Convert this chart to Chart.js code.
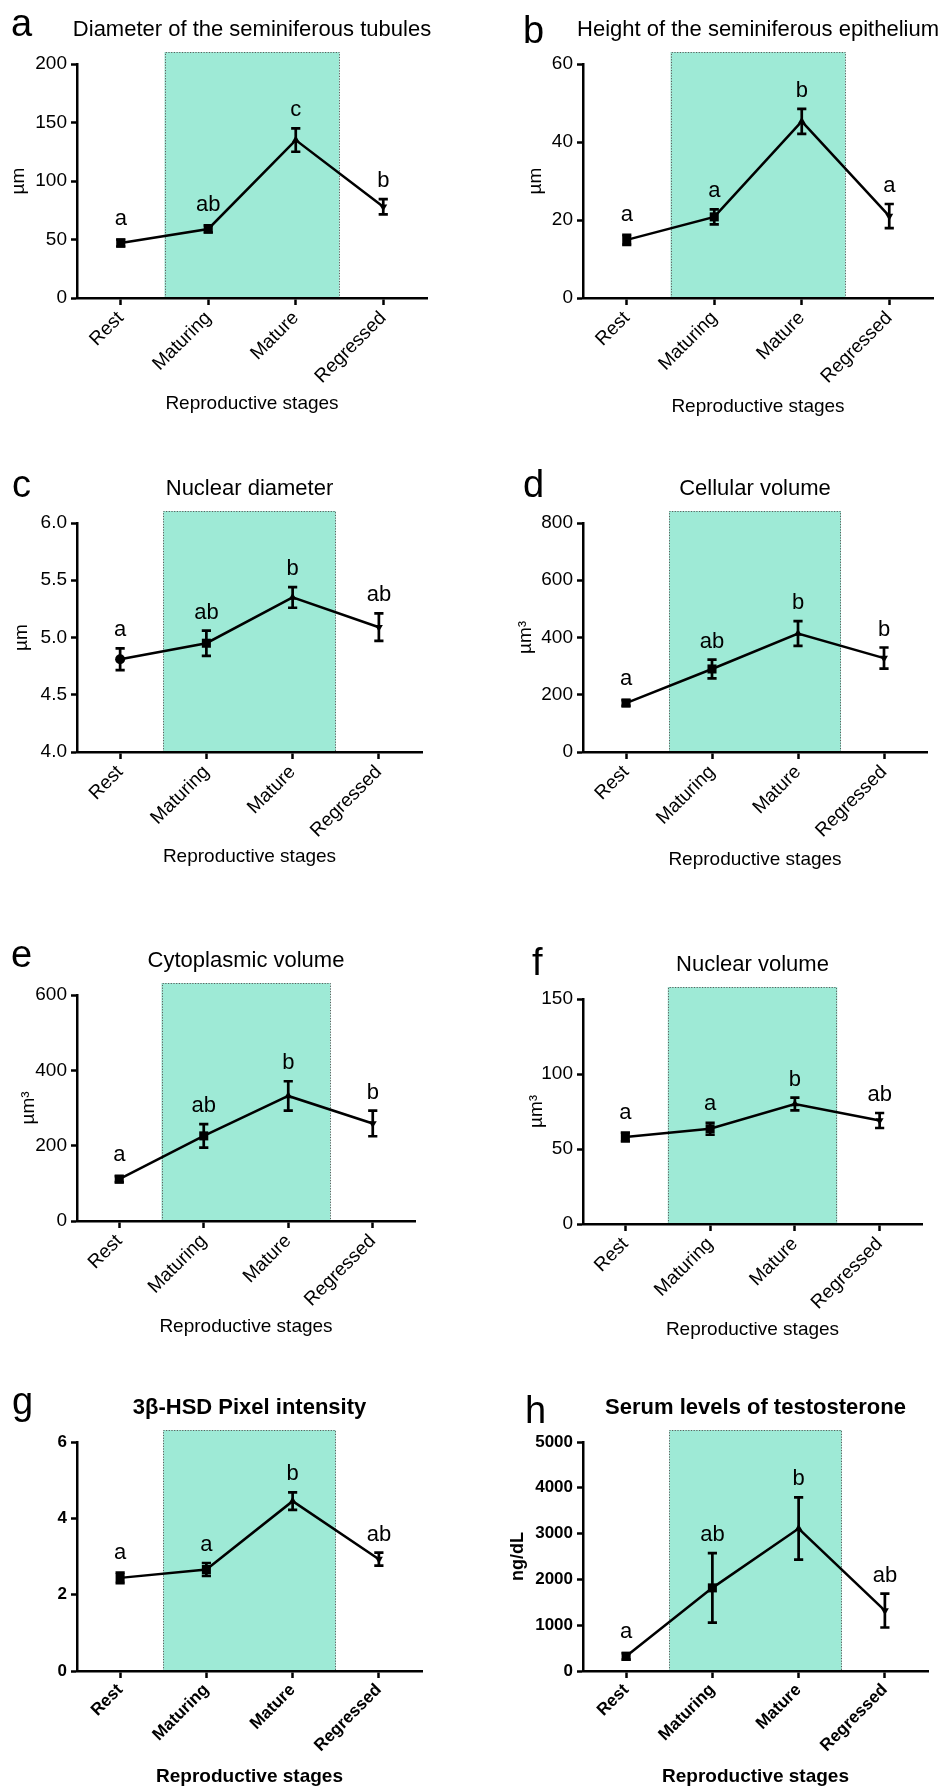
<!DOCTYPE html>
<html>
<head>
<meta charset="utf-8">
<title>Seminiferous tubule morphometry by reproductive stage</title>
<script src="https://cdn.jsdelivr.net/npm/chart.js@4.4.1/dist/chart.umd.min.js"></script>
<style>
  html, body { margin: 0; padding: 0; background: #fff; }
  #fig { position: relative; width: 941px; height: 1788px; overflow: hidden; background: #fff; }
  #fig canvas { position: absolute; }
</style>
</head>
<body>
<div id="fig"></div>
<script>
// ---- data -------------------------------------------------------------
const stages = ['Rest', 'Maturing', 'Mature', 'Regressed'];
const xAxisTitle = 'Reproductive stages';

// a: diameter of the seminiferous tubules (µm)
const tubuleDiameter = [47, 59, 135, 78];
const tubuleDiameterSem = [3, 3, 10, 6.5];
const tubuleDiameterGroups = ['a', 'ab', 'c', 'b'];
const tubuleDiameterTicks = ['0', '50', '100', '150', '200'];

// b: height of the seminiferous epithelium (µm)
const epitheliumHeight = [14.9, 20.8, 45.3, 21.0];
const epitheliumHeightSem = [1.3, 1.9, 3.2, 3.1];
const epitheliumHeightGroups = ['a', 'a', 'b', 'a'];
const epitheliumHeightTicks = ['0', '20', '40', '60'];

// c: nuclear diameter (µm)
const nuclearDiameter = [4.81, 4.95, 5.35, 5.09];
const nuclearDiameterSem = [0.095, 0.11, 0.09, 0.12];
const nuclearDiameterGroups = ['a', 'ab', 'b', 'ab'];
const nuclearDiameterTicks = ['4.0', '4.5', '5.0', '5.5', '6.0'];

// d: cellular volume (µm³)
const cellularVolume = [171, 290, 414, 328];
const cellularVolumeSem = [10, 33, 43, 37];
const cellularVolumeGroups = ['a', 'ab', 'b', 'b'];
const cellularVolumeTicks = ['0', '200', '400', '600', '800'];

// e: cytoplasmic volume (µm³)
const cytoplasmicVolume = [111, 226, 332, 259];
const cytoplasmicVolumeSem = [8, 31, 39, 34];
const cytoplasmicVolumeGroups = ['a', 'ab', 'b', 'b'];
const cytoplasmicVolumeTicks = ['0', '200', '400', '600'];

// f: nuclear volume (µm³)
const nuclearVolume = [58, 63.5, 80, 69];
const nuclearVolumeSem = [3, 4, 4.3, 5];
const nuclearVolumeGroups = ['a', 'a', 'b', 'ab'];
const nuclearVolumeTicks = ['0', '50', '100', '150'];

// g: 3β-HSD pixel intensity
const hsdIntensity = [2.44, 2.66, 4.45, 2.93];
const hsdIntensitySem = [0.14, 0.17, 0.23, 0.17];
const hsdIntensityGroups = ['a', 'a', 'b', 'ab'];
const hsdIntensityTicks = ['0', '2', '4', '6'];

// h: serum testosterone (ng/dL)
const testosterone = [320, 1815, 3110, 1320];
const testosteroneSem = [70, 757, 680, 370];
const testosteroneGroups = ['a', 'ab', 'b', 'ab'];
const testosteroneTicks = ['0', '1000', '2000', '3000', '4000', '5000'];

// ---- styling ----------------------------------------------------------
const FONT = "'Liberation Sans', Arial, Helvetica, sans-serif";
const INK = '#000';
const BAND_FILL = 'rgb(158, 234, 214)';
const BAND_EDGE = '#5c5c5c';
const BAND_SPAN = [0.5, 2.5];        // breeding season: between category centres
const BAND_RISE = 12;                // band reaches a little above the y range

Chart.defaults.font.family = FONT;
Chart.defaults.color = INK;

const stdMarkers = {
  style: ['rect', 'rect', 'triangle', 'triangle'],
  rot: [0, 0, 0, 180],
  radius: [6.4, 6.4, 4.6, 4.6]
};
const roundRestMarkers = {
  style: ['circle', 'rect', 'triangle', 'triangle'],
  rot: [0, 0, 0, 180],
  radius: [5, 6.4, 4.6, 4.6]
};

const panels = [
  { letter: 'a', title: 'Diameter of the seminiferous tubules', yTitle: 'µm',
    mean: tubuleDiameter, sem: tubuleDiameterSem, groups: tubuleDiameterGroups, ticks: tubuleDiameterTicks,
    box: { x: 0, y: 0, w: 470, h: 440 }, area: { l: 77, r: 427, t: 64, b: 298 },
    letterPos: [11, 36], xTitleBase: 410, yTitleMid: 19, markers: stdMarkers },
  { letter: 'b', title: 'Height of the seminiferous epithelium', yTitle: 'µm',
    mean: epitheliumHeight, sem: epitheliumHeightSem, groups: epitheliumHeightGroups, ticks: epitheliumHeightTicks,
    box: { x: 470, y: 0, w: 471, h: 440 }, area: { l: 583, r: 933, t: 64, b: 298 },
    letterPos: [523, 43], xTitleBase: 413, yTitleMid: 536, markers: stdMarkers },
  { letter: 'c', title: 'Nuclear diameter', yTitle: 'µm',
    mean: nuclearDiameter, sem: nuclearDiameterSem, groups: nuclearDiameterGroups, ticks: nuclearDiameterTicks,
    box: { x: 0, y: 440, w: 470, h: 440 }, area: { l: 77, r: 422, t: 523, b: 752 },
    letterPos: [12, 497], xTitleBase: 863, yTitleMid: 22, markers: roundRestMarkers },
  { letter: 'd', title: 'Cellular volume', yTitle: 'µm³',
    mean: cellularVolume, sem: cellularVolumeSem, groups: cellularVolumeGroups, ticks: cellularVolumeTicks,
    box: { x: 470, y: 440, w: 471, h: 440 }, area: { l: 583, r: 927, t: 523, b: 752 },
    letterPos: [523, 497], xTitleBase: 866, yTitleMid: 526, markers: stdMarkers },
  { letter: 'e', title: 'Cytoplasmic volume', yTitle: 'µm³',
    mean: cytoplasmicVolume, sem: cytoplasmicVolumeSem, groups: cytoplasmicVolumeGroups, ticks: cytoplasmicVolumeTicks,
    box: { x: 0, y: 880, w: 470, h: 470 }, area: { l: 77, r: 415, t: 995, b: 1221 },
    letterPos: [11, 967], xTitleBase: 1333, yTitleMid: 29, markers: stdMarkers },
  { letter: 'f', title: 'Nuclear volume', yTitle: 'µm³',
    mean: nuclearVolume, sem: nuclearVolumeSem, groups: nuclearVolumeGroups, ticks: nuclearVolumeTicks,
    box: { x: 470, y: 880, w: 471, h: 470 }, area: { l: 583, r: 922, t: 999, b: 1224 },
    letterPos: [532, 975], xTitleBase: 1336, yTitleMid: 537, markers: stdMarkers },
  { letter: 'g', title: '3β-HSD Pixel intensity', yTitle: null, bold: true,
    mean: hsdIntensity, sem: hsdIntensitySem, groups: hsdIntensityGroups, ticks: hsdIntensityTicks,
    box: { x: 0, y: 1350, w: 470, h: 438 }, area: { l: 77, r: 422, t: 1442, b: 1671 },
    letterPos: [12, 1414], xTitleBase: 1783, yTitleMid: 0, markers: stdMarkers },
  { letter: 'h', title: 'Serum levels of testosterone', yTitle: 'ng/dL', bold: true,
    mean: testosterone, sem: testosteroneSem, groups: testosteroneGroups, ticks: testosteroneTicks,
    box: { x: 470, y: 1350, w: 471, h: 438 }, area: { l: 583, r: 928, t: 1442, b: 1671 },
    letterPos: [525, 1423], xTitleBase: 1783, yTitleMid: 518, markers: stdMarkers }
];

// Shaded season band, error bars, group letters, panel title and panel letter
function decorations(p) {
  return {
    id: 'decor_' + p.letter,
    beforeDraw(chart) {
      const { ctx, chartArea: a, scales: { x } } = chart;
      const l = x.getPixelForValue(BAND_SPAN[0]);
      const r = x.getPixelForValue(BAND_SPAN[1]);
      const t = a.top - BAND_RISE;
      ctx.save();
      ctx.fillStyle = BAND_FILL;
      ctx.fillRect(l, t, r - l, a.bottom - t);
      ctx.strokeStyle = BAND_EDGE;
      ctx.lineWidth = 1;
      ctx.setLineDash([1.2, 1.5]);
      ctx.beginPath();
      ctx.moveTo(Math.round(l) + 0.5, a.bottom);
      ctx.lineTo(Math.round(l) + 0.5, Math.round(t) + 0.5);
      ctx.lineTo(Math.round(r) - 0.5, Math.round(t) + 0.5);
      ctx.lineTo(Math.round(r) - 0.5, a.bottom);
      ctx.stroke();
      ctx.restore();
    },
    afterDatasetsDraw(chart) {
      const { ctx, scales: { x, y } } = chart;
      ctx.save();
      ctx.strokeStyle = INK;
      ctx.fillStyle = INK;
      ctx.lineWidth = 2.7;
      ctx.lineCap = 'butt';
      ctx.font = '22px ' + FONT;
      ctx.textAlign = 'center';
      ctx.textBaseline = 'alphabetic';
      p.mean.forEach((v, i) => {
        const px = x.getPixelForValue(i);
        const yt = y.getPixelForValue(v + p.sem[i]);
        const yb = y.getPixelForValue(v - p.sem[i]);
        const cap = 4.6;
        ctx.beginPath();
        ctx.moveTo(px, yt); ctx.lineTo(px, yb);
        ctx.moveTo(px - cap, yt); ctx.lineTo(px + cap, yt);
        ctx.moveTo(px - cap, yb); ctx.lineTo(px + cap, yb);
        ctx.stroke();
        const markTop = y.getPixelForValue(v) - p.markers.radius[i];
        ctx.fillText(p.groups[i], px, Math.min(yt, markTop) - 12);
      });
      ctx.restore();
    },
    afterDraw(chart) {
      const { ctx, chartArea: a } = chart;
      ctx.save();
      ctx.fillStyle = INK;
      ctx.textBaseline = 'alphabetic';
      ctx.textAlign = 'center';
      ctx.font = (p.bold ? 'bold ' : '') + '22px ' + FONT;
      ctx.fillText(p.title, (a.left + a.right) / 2, a.top - 28);
      ctx.textAlign = 'left';
      ctx.font = '38px ' + FONT;
      ctx.fillText(p.letter, p.letterPos[0] - p.box.x, p.letterPos[1] - p.box.y);
      ctx.restore();
    }
  };
}

const fig = document.getElementById('fig');

panels.forEach(p => {
  const cv = document.createElement('canvas');
  cv.width = p.box.w; cv.height = p.box.h;
  cv.style.left = p.box.x + 'px'; cv.style.top = p.box.y + 'px';
  cv.style.width = p.box.w + 'px'; cv.style.height = p.box.h + 'px';
  fig.appendChild(cv);

  const weight = p.bold ? 'bold' : 'normal';
  const tickFont = { size: p.bold ? 17 : 19, weight };
  const xTitleFont = { size: 19, weight, lineHeight: 1 };
  const yTitleFont = { size: p.bold ? 18 : 19, weight, lineHeight: 1 };
  const tickValues = p.ticks.map(Number);
  const yWidth = p.area.l - p.box.x;
  const xHeight = p.box.y + p.box.h - p.area.b;
  // axis titles are placed from the scale edge; convert page positions to paddings
  const xTitlePad = (p.box.y + p.box.h) - (p.xTitleBase - 0.35 * xTitleFont.size) - xTitleFont.size / 2;
  const yTitlePad = p.yTitleMid - p.box.x - yTitleFont.size / 2;

  new Chart(cv, {
    type: 'line',
    data: {
      labels: stages,
      datasets: [{
        data: p.mean,
        borderColor: INK,
        borderWidth: 2.5,
        tension: 0,
        pointStyle: p.markers.style,
        pointRotation: p.markers.rot,
        pointRadius: p.markers.radius,
        pointBackgroundColor: INK,
        pointBorderColor: INK,
        pointBorderWidth: 0,
        clip: false
      }]
    },
    options: {
      responsive: false,
      animation: false,
      devicePixelRatio: 1,
      events: [],
      layout: { padding: { left: 0, bottom: 0, top: p.area.t - p.box.y, right: p.box.x + p.box.w - p.area.r } },
      plugins: { legend: { display: false }, tooltip: { enabled: false }, title: { display: false } },
      scales: {
        x: {
          type: 'category',
          offset: true,
          afterFit: s => { s.height = xHeight; },
          ticks: { autoSkip: false, minRotation: 45, maxRotation: 45, font: tickFont, color: INK, padding: 2 },
          grid: { display: true, offset: false, drawOnChartArea: false, drawTicks: true, tickLength: 7, tickWidth: 2.5, tickColor: INK },
          border: { display: true, width: 2.5, color: INK },
          title: { display: true, text: xAxisTitle, font: xTitleFont, color: INK, padding: { top: 0, bottom: xTitlePad } }
        },
        y: {
          type: 'linear',
          min: tickValues[0],
          max: tickValues[tickValues.length - 1],
          afterFit: s => { s.width = yWidth; },
          afterBuildTicks: s => { s.ticks = tickValues.map(v => ({ value: v })); },
          ticks: { callback: (v, i) => p.ticks[i], font: tickFont, color: INK, padding: 4 },
          grid: { display: true, drawOnChartArea: false, drawTicks: true, tickLength: 6, tickWidth: 2.5, tickColor: INK },
          border: { display: true, width: 2.5, color: INK },
          title: { display: !!p.yTitle, text: p.yTitle || '', font: yTitleFont, color: INK, padding: { top: yTitlePad, bottom: 0 } }
        }
      }
    },
    plugins: [decorations(p)]
  });
});
</script>
</body>
</html>
